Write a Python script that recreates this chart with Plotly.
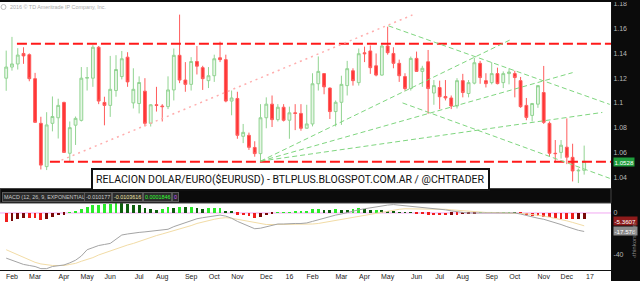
import plotly.graph_objects as go
import pandas as pd

# ---------------- data ----------------
weeks = pd.date_range("2015-01-26", periods=101, freq="7D")

open_ = [1.1200,1.1290,1.1315,1.1400,1.1390,1.1196,1.0835,1.0485,1.0835,1.0880,
         1.1004,1.0593,1.0820,1.0859,1.1200,1.1200,1.1450,1.1004,1.0980,1.1100,
         1.1213,1.1370,1.1000,1.0995,1.1095,1.0835,1.0985,1.0975,1.0970,1.1105,
         1.1385,1.1185,1.1150,1.1335,1.1285,1.1180,1.1220,1.1365,1.1350,1.1015,
         1.1036,1.0730,1.0738,1.0640,1.0590,1.0880,1.0990,1.0865,1.0965,1.0860,
         1.0920,1.0915,1.0795,1.0830,1.1155,1.1237,1.1120,1.0930,1.1005,1.1140,
         1.1260,1.1164,1.1405,1.1420,1.1300,1.1225,1.1460,1.1400,1.1320,1.1213,
         1.1116,1.1360,1.1255,1.1333,1.1080,1.1124,1.1052,1.1040,1.0975,1.1180,
         1.1076,1.1160,1.1320,1.1180,1.1164,1.1237,1.1164,1.1237,1.1237,1.1180,
         1.0980,1.0899,1.0990,1.1084,1.0835,1.0593,1.0600,1.0642,1.0560,1.0450,
         1.0455]
high = [1.1423,1.1534,1.1443,1.1450,1.1400,1.1243,1.0888,1.0925,1.1052,1.1034,
        1.1010,1.0850,1.0890,1.1290,1.1290,1.1467,1.1460,1.1050,1.1380,1.1386,
        1.1420,1.1410,1.1280,1.1215,1.1200,1.0990,1.1130,1.0990,1.1215,1.1440,
        1.1714,1.1330,1.1370,1.1460,1.1300,1.1290,1.1390,1.1495,1.1390,1.1100,
        1.1090,1.0830,1.0760,1.0690,1.0990,1.1045,1.1060,1.0990,1.0990,1.0970,
        1.0990,1.0990,1.0985,1.1240,1.1376,1.1240,1.1125,1.1020,1.1220,1.1340,
        1.1280,1.1440,1.1455,1.1465,1.1400,1.1470,1.1616,1.1450,1.1350,1.1240,
        1.1375,1.1415,1.1300,1.1428,1.1185,1.1180,1.1185,1.1060,1.1200,1.1235,
        1.1185,1.1366,1.1340,1.1240,1.1330,1.1285,1.1255,1.1280,1.1260,1.1210,
        1.1040,1.1000,1.1125,1.1299,1.0850,1.0700,1.0700,1.0875,1.0670,1.0470,
        1.0655]
low = [1.1098,1.1261,1.1270,1.1316,1.1175,1.0840,1.0462,1.0457,1.0770,1.0712,
       1.0600,1.0521,1.0660,1.0850,1.1100,1.1130,1.0990,1.0819,1.0887,1.1050,
       1.1190,1.1130,1.0955,1.0915,1.0810,1.0809,1.0930,1.0850,1.0950,1.1020,
       1.1160,1.1090,1.1100,1.1230,1.1105,1.1120,1.1170,1.1330,1.1005,1.0900,
       1.0710,1.0675,1.0620,1.0565,1.0524,1.0795,1.0805,1.0850,1.0850,1.0710,
       1.0780,1.0775,1.0800,1.0810,1.1100,1.1070,1.0870,1.0810,1.0822,1.1060,
       1.1140,1.1140,1.1330,1.1235,1.1215,1.1220,1.1390,1.1280,1.1170,1.1100,
       1.1100,1.1260,1.1130,1.0912,1.0985,1.0950,1.1020,1.0950,1.0955,1.1045,
       1.1045,1.1150,1.1155,1.1125,1.1150,1.1150,1.1120,1.1150,1.1045,1.0960,
       1.0860,1.0850,1.0960,1.0830,1.0570,1.0518,1.0550,1.0505,1.0365,1.0352,
       1.0420]
close = [1.1290,1.1315,1.1387,1.1380,1.1196,1.0843,1.0497,1.0822,1.0890,1.0980,
         1.0600,1.0800,1.0875,1.1200,1.1205,1.1450,1.1015,1.0980,1.1110,1.1270,
         1.1357,1.1170,1.1110,1.1165,1.0835,1.0985,1.0980,1.0970,1.1105,1.1385,
         1.1185,1.1150,1.1335,1.1297,1.1196,1.1220,1.1357,1.1350,1.1015,1.1040,
         1.0738,1.0762,1.0641,1.0590,1.0880,1.0990,1.0865,1.0965,1.0860,1.0920,
         1.0915,1.0795,1.0830,1.1155,1.1255,1.1130,1.0930,1.1005,1.1150,1.1277,
         1.1180,1.1398,1.1398,1.1285,1.1225,1.1460,1.1406,1.1320,1.1220,1.1116,
         1.1360,1.1255,1.1280,1.1116,1.1140,1.1050,1.1040,1.0975,1.1180,1.1084,
         1.1164,1.1325,1.1205,1.1156,1.1237,1.1156,1.1237,1.1250,1.1205,1.0970,
         1.0883,1.0995,1.1140,1.0843,1.0593,1.0590,1.0658,1.0561,1.0450,1.0455,
         1.0528]

macd_value = [-43,-45,-47,-49,-50,-51,-53,-53,-51,-50,
              -49.5,-47.5,-45,-41,-35,-33,-31,-30,-29,-25,
              -21,-20,-19,-18.5,-18,-17.5,-17,-16.5,-15.5,-13,
              -11,-9,-7,-5.5,-4.5,-3.5,-2.5,-2,-3,-5,
              -8,-10.5,-13,-15,-14.5,-13,-11.5,-10.5,-10.5,-10,
              -10,-10,-9.5,-8,-6.5,-4.5,-3,-2,-1,0.5,
              1.5,3,4,5,6,7,7.5,8,7.5,6.5,
              6,5.5,5,4.5,4,3.5,3,2,1,0.5,
              0,0,0,0,0.5,0,0.5,0.5,0,-1,
              -2.5,-4,-5,-6,-7.5,-9,-11,-13,-15,-16.5,
              -17.6]
macd_avg = [-35,-37.5,-40,-42.5,-45,-47,-48.5,-49.5,-50,-50,
            -50,-49,-48,-46,-44.5,-42.5,-40,-38,-36,-34,
            -32,-30.5,-29,-27,-25,-23.5,-21.5,-20,-18.5,-17,
            -15.5,-13.5,-12,-10,-8.5,-7,-6,-5,-4.5,-5,
            -6,-7,-8,-9.5,-10.5,-11,-11,-11,-11,-11,
            -11,-11,-11,-10.5,-10,-9,-8,-7,-6,-5,
            -4,-3,-2,-1,0,1,2,3,3.5,4,
            4,4,4,4,4,4,3.5,3,2.5,2,
            1.5,1,0.5,0.5,0.5,0.3,0.3,0.3,0.3,0,
            -0.7,-1.5,-2,-3,-4,-5,-6,-7.5,-9,-10.5,
            -12.2]
macd_hist = [-9,-8,-6,-5,-5,-5,-7,-6,-4,-2,
             -1.5,0.5,1,3.5,5.7,7.3,7.3,8.3,8.9,10.5,
             9.8,8.9,7.9,7.3,4.8,3.5,3.2,4.1,5.4,4.8,
             5.7,5.4,5.7,4.8,4.1,4.8,4.8,4.8,2,1,
             -1.6,-2.2,-2.9,-4.8,-3.8,-2.2,-0.6,0.2,0.4,0.6,
             1,1,1.9,3.5,3.5,3.2,2.5,3.5,3.2,2.9,
             3.5,4.8,3.5,2.5,3.2,2.5,1.9,1,0.5,0.3,
             0.2,-0.5,-1,-1.5,-2,-2,-2,-1.5,-1.5,-1,
             -0.5,-0.3,0.2,0.3,0.5,0.2,0.5,0.5,0.2,-1,
             -2,-2.5,-3,-3.5,-4,-4.5,-5.5,-6,-6,-5.5,
             -5.36]

tick_dates = ["2015-02-02","2015-03-02","2015-04-06","2015-05-04","2015-06-01","2015-07-06",
              "2015-08-03","2015-09-07","2015-10-05","2015-11-02","2015-12-07","2016-01-04",
              "2016-02-01","2016-03-07","2016-04-04","2016-05-02","2016-06-06","2016-07-04",
              "2016-08-01","2016-09-05","2016-10-03","2016-11-07","2016-12-05","2017-01-02"]
tick_labels = ["Feb","Mar","Apr","May","Jun","Jul","Aug","Sep","Oct","Nov","Dec","16",
               "Feb","Mar","Apr","May","Jun","Jul","Aug","Sep","Oct","Nov","Dec","17"]
price_ticks = [1.04,1.06,1.08,1.10,1.12,1.14,1.16,1.18]
price_labels = ["1.04","1.06","1.08","1.1","1.12","1.14","1.16","1.18"]

# drawn study lines (start date, start price, end date, end price)
resist_level = 1.1478
support_level = 1.0525
dotted_trend = ("2015-04-03", 1.0537, "2016-06-01", 1.1711)
green_lines = [
    ("2015-11-30", 1.0529, "2016-09-30", 1.1518),
    ("2015-11-30", 1.0529, "2016-12-12", 1.1245),
    ("2015-11-30", 1.0529, "2017-01-17", 1.0923),
    ("2016-05-03", 1.1623, "2017-01-26", 1.0988),
    ("2016-05-20", 1.1000, "2017-01-26", 1.0390),
]

# ---------------- figure ----------------
W, H = 640, 281
ML, MR, MT, MB = 0, 29, 2, 11
PW, PH = W - ML - MR, H - MT - MB

def py(ypix):  # pixel y -> paper y
    return (H - MB - ypix) / PH

def px(xpix):
    return (xpix - ML) / PW

fig = go.Figure()

fig.add_trace(go.Candlestick(
    x=weeks, open=open_, high=high, low=low, close=close,
    increasing=dict(line=dict(color="#92d492", width=1), fillcolor="#e6f6e6"),
    decreasing=dict(line=dict(color="#ff5c5c", width=1), fillcolor="#ff3535"),
    whiskerwidth=0, showlegend=False, hoverinfo="skip",
    xaxis="x", yaxis="y"))

# histogram colours
hcols = []
for i, h in enumerate(macd_hist):
    prev = macd_hist[i - 1] if i > 0 else h
    if h >= 0:
        hcols.append("#2bea2b" if h >= prev else "#0d5f0d")
    else:
        hcols.append("#f01e1e" if h <= prev else "#7a0808")

fig.add_trace(go.Bar(x=weeks, y=macd_hist, marker=dict(color=hcols, line=dict(width=0)),
                     width=3.4 * 86400000, xaxis="x", yaxis="y2",
                     showlegend=False, hoverinfo="skip"))
fig.add_trace(go.Scatter(x=weeks, y=macd_avg, mode="lines",
                         line=dict(color="#f2dca6", width=1),
                         xaxis="x", yaxis="y2", showlegend=False, hoverinfo="skip"))
fig.add_trace(go.Scatter(x=weeks, y=macd_value, mode="lines",
                         line=dict(color="#a4a4a4", width=1),
                         xaxis="x", yaxis="y2", showlegend=False, hoverinfo="skip"))

shapes = []
# right dark axis panel
shapes.append(dict(type="rect", xref="paper", yref="paper", x0=1, x1=W / PW,
                   y0=-MB / PH - 0.01, y1=1 + MT / PH + 0.01,
                   fillcolor="#0b0b0b", line=dict(width=0), layer="below"))
# top black strip
shapes.append(dict(type="rect", xref="paper", yref="paper", x0=0, x1=W / PW,
                   y0=1, y1=1 + MT / PH + 0.01,
                   fillcolor="#0b0b0b", line=dict(width=0), layer="above"))
# MACD header bar
shapes.append(dict(type="rect", xref="paper", yref="paper", x0=0, x1=1,
                   y0=py(203), y1=py(188.5),
                   fillcolor="#0b0b0b", line=dict(color="#444444", width=1), layer="above"))
# zero line MACD
shapes.append(dict(type="line", xref="paper", yref="y2", x0=0, x1=1, y0=0, y1=0,
                   line=dict(color="#f2a8f2", width=1), layer="below"))
# resistance / support
shapes.append(dict(type="line", xref="x", yref="y", x0="2015-02-08", x1="2017-02-20",
                   y0=resist_level, y1=resist_level,
                   line=dict(color="#ff1a1a", width=2, dash="10px,4px")))
shapes.append(dict(type="line", xref="x", yref="y", x0="2015-03-20", x1="2017-02-20",
                   y0=support_level, y1=support_level,
                   line=dict(color="#ff1a1a", width=2, dash="10px,4px")))
shapes.append(dict(type="line", xref="x", yref="y", x0=dotted_trend[0], y0=dotted_trend[1],
                   x1=dotted_trend[2], y1=dotted_trend[3],
                   line=dict(color="#ffadad", width=1.5, dash="2px,4px")))
for (d0, p0, d1, p1) in green_lines:
    shapes.append(dict(type="line", xref="x", yref="y", x0=d0, y0=p0, x1=d1, y1=p1,
                       line=dict(color="#7fd67f", width=1, dash="5px,3px")))
# copyright icon
shapes.append(dict(type="circle", xref="paper", yref="paper",
                   x0=px(1), x1=px(6), y0=py(9.5), y1=py(4.5),
                   line=dict(color="#bbbbbb", width=1)))

annotations = []
annotations.append(dict(xref="paper", yref="paper", x=px(8), y=py(7), xanchor="left", yanchor="middle",
                        text="2016 © TD Ameritrade IP Company, Inc.", showarrow=False,
                        font=dict(family="Liberation Sans", size=5.4, color="#aaaaaa")))
annotations.append(dict(xref="paper", yref="paper", x=px(290.5), y=py(179), xanchor="center", yanchor="middle",
                        text="RELACION DOLAR/EURO($EURUSD) - BTLPLUS.BLOGSPOT.COM.AR / @CHTRADER",
                        showarrow=False, bgcolor="#ffffff", bordercolor="#111111", borderwidth=2, borderpad=3,
                        font=dict(family="Roboto", size=10.5, color="#111111")))
# header boxes
hdr = [(2, "MACD (12, 26, 9, EXPONENTIAL)", "#c8c8c8"),
       (84, "-0.010177", "#d0d0d0"),
       (112, "-0.0103616", "#f2e6a8"),
       (143, "0.0001846", "#33ff33"),
       (172, "0", "#cc55ff")]
for x0, t, c in hdr:
    annotations.append(dict(xref="paper", yref="paper", x=px(x0), y=py(197), xanchor="left", yanchor="middle",
                            text=t, showarrow=False, bgcolor="#2b2b2b", bordercolor="#5a5a5a",
                            borderwidth=1, borderpad=1,
                            font=dict(family="Liberation Sans", size=5.4, color=c)))
# right labels
for yp, t, bg in [(161.5, "1.0528", "#1f9d3c"), (221, "-5.3607", "#8e1b1b"), (231, "-17.578", "#8c8c8c")]:
    annotations.append(dict(xref="paper", yref="paper", x=px(613), y=py(yp), xanchor="left", yanchor="middle",
                            text=t, showarrow=False, bgcolor=bg, borderpad=0.5,
                            font=dict(family="Liberation Sans", size=6.2, color="#ffffff")))
annotations.append(dict(xref="paper", yref="paper", x=px(634), y=py(240), xanchor="center", yanchor="middle",
                        text="‹thinkorswim›", textangle=-90, showarrow=False,
                        font=dict(family="Liberation Sans", size=6, color="#8a8a8a")))

fig.update_layout(
    width=W, height=H, margin=dict(l=ML, r=MR, t=MT, b=MB),
    paper_bgcolor="#ffffff", plot_bgcolor="#ffffff",
    showlegend=False, bargap=0,
    shapes=shapes, annotations=annotations,
    xaxis=dict(type="date", range=["2015-01-18 12:00", "2017-01-27 12:00"],
               anchor="y2", rangeslider=dict(visible=False),
               tickvals=tick_dates, ticktext=tick_labels, ticks="", ticklen=0,
               tickfont=dict(family="Liberation Sans", size=7, color="#222222"),
               showgrid=False, zeroline=False, showline=True, linecolor="#111111", linewidth=1),
    yaxis=dict(domain=[py(188), 1], range=[1.0312, 1.1816], side="right", anchor="x",
               tickvals=price_ticks, ticktext=price_labels, ticks="", ticklen=2,
               tickfont=dict(family="Liberation Sans", size=7, color="#b8b8b8"),
               showgrid=False, zeroline=False, showline=True, linecolor="#111111", linewidth=1),
    yaxis2=dict(domain=[0, py(203)], range=[-54.3, 9.5], side="right", anchor="x",
                tickvals=[0, -40], ticktext=["0", "-40"], ticks="", ticklen=2,
                tickfont=dict(family="Liberation Sans", size=7, color="#b8b8b8"),
                showgrid=False, zeroline=False, showline=True, linecolor="#111111", linewidth=1),
)

fig.write_html("out.html")
